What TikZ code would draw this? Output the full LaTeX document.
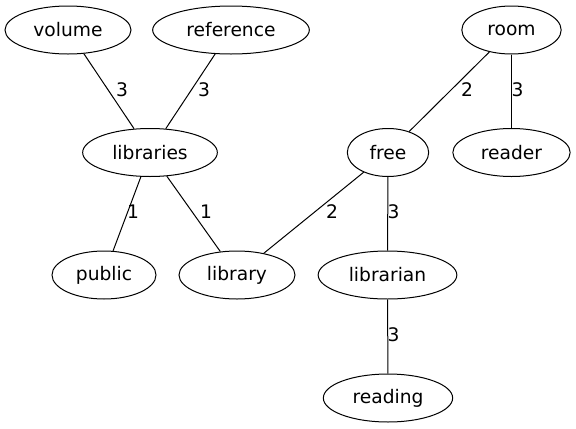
\documentclass[tikz,border=0pt]{standalone}
\usepackage{fontspec}
\setmainfont{DejaVu Sans}
\usetikzlibrary{shapes.geometric}
\begin{document}
\begin{tikzpicture}[x=0.75pt,y=-0.75pt,line width=0.75pt,
  word/.style={draw,ellipse,inner sep=0pt,minimum height=36pt,font=\fontsize{14}{16}\selectfont},
  weight/.style={inner sep=0pt,font=\fontsize{14}{16}\selectfont}]
        \useasboundingbox (0,0) rectangle (576,429);
        % words
        \node [word,minimum width=94.5pt] (volume) at (68,30) {volume};
        \node [word,minimum width=117.5pt] (reference) at (231,30) {reference};
        \node [word,minimum width=74.5pt] (room) at (511.5,30) {room};
        \node [word,minimum width=101pt] (libraries) at (150,152.5) {libraries};
        \node [word,minimum width=61pt] (free) at (388,152.5) {free};
        \node [word,minimum width=88pt] (reader) at (511.5,152.5) {reader};
        \node [word,minimum width=78pt] (public) at (104,275) {public};
        \node [word,minimum width=87pt] (library) at (237,275) {library};
        \node [word,minimum width=104pt] (librarian) at (387.5,275) {librarian};
        \node [word,minimum width=97pt] (reading) at (388,398) {reading};
        % links
        \draw (volume) -- (libraries) node [weight] at (122,90) {3};
        \draw (reference) -- (libraries) node [weight] at (204,90) {3};
        \draw (room) -- (free) node [weight] at (467,90) {2};
        \draw (room) -- (reader) node [weight] at (517.5,90) {3};
        \draw (libraries) -- (public) node [weight] at (133,212) {1};
        \draw (libraries) -- (library) node [weight] at (206,212) {1};
        \draw (free) -- (library) node [weight] at (332,212) {2};
        \draw (free) -- (librarian) node [weight] at (393.5,212) {3};
        \draw (librarian) -- (reading) node [weight] at (393.5,335) {3};
\end{tikzpicture}
\end{document}
